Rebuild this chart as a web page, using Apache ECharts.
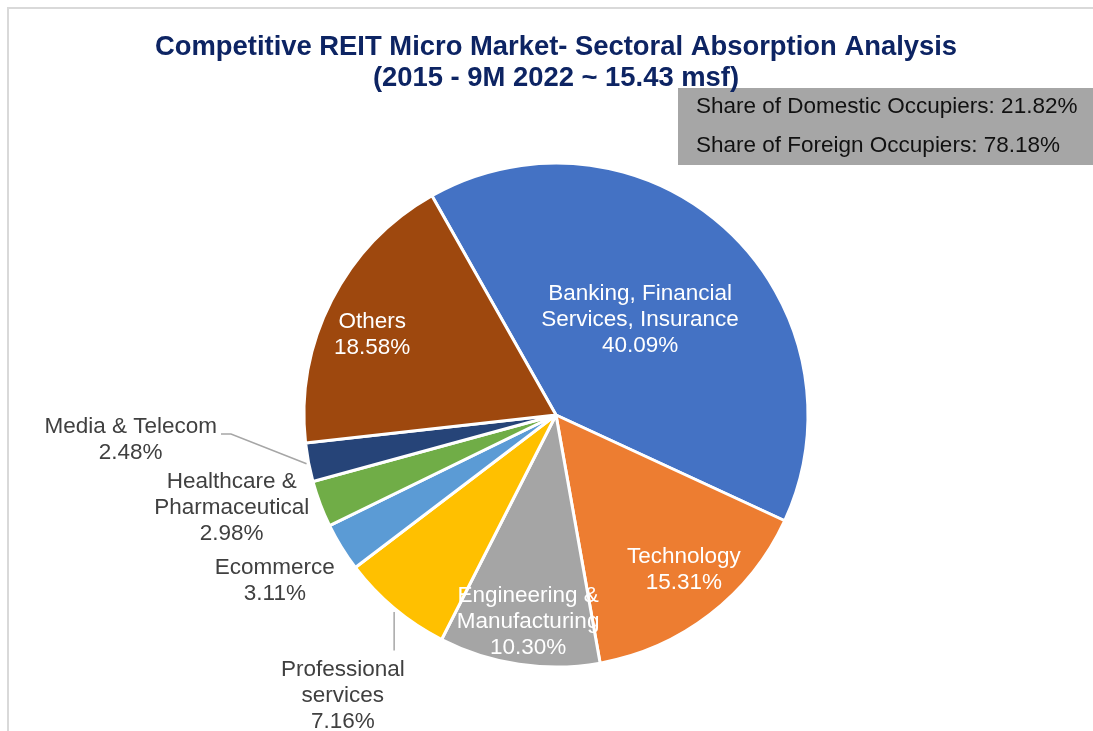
<!DOCTYPE html>
<html>
<head>
<meta charset="utf-8">
<script src="https://cdn.jsdelivr.net/npm/echarts@6/dist/echarts.min.js"></script>
<style>
  html, body { margin: 0; padding: 0; background: #ffffff; }
  #chart { width: 1093px; height: 731px; }
</style>
</head>
<body>
<div id="chart"></div>
<script>
// ---- Data ----
const categories = [
  'Banking, Financial\nServices, Insurance',
  'Technology',
  'Engineering &\nManufacturing',
  'Professional\nservices',
  'Ecommerce',
  'Healthcare &\nPharmaceutical',
  'Media & Telecom',
  'Others'
];
const shares = [40.09, 15.31, 10.30, 7.16, 3.11, 2.98, 2.48, 18.58];
const colors = ['#4472C4', '#ED7D31', '#A5A5A5', '#FFC000', '#5B9BD5', '#70AD47', '#264478', '#9E480E'];
const occupierLabels = ['Share of Domestic Occupiers', 'Share of Foreign Occupiers'];
const occupierShares = [21.82, 78.18];

// ---- Layout (not data) ----
const CX = 556, CY = 415, R = 252, START = 119.5, LABEL_DY = 2.5;
const FONT = 'Liberation Sans, Arial, sans-serif';
const insideLabel = [true, true, true, false, false, false, false, true];
// [radius factor, angle nudge in degrees] relative to each slice's mid angle
const labelPlace = [[0.51, 1.8], [0.79, 2.3], [0.82, 0.7], [1.39, 2.4], [1.29, -1.5], [1.336, -5.1], [1.69, -7.8], [0.80, 2.8]];
// guide style: 'down' = vertical line from slice edge down to label top; 'side' = line to label's right end
const guideType = [null, null, null, 'down', null, null, 'side', null];

const total = shares.reduce((a, b) => a + b, 0);
const midAngles = [];
(function () {
  let acc = START;
  shares.forEach(v => {
    const span = v / total * 360;
    midAngles.push(acc - span / 2);
    acc -= span;
  });
})();

const chart = echarts.init(document.getElementById('chart'), null, { renderer: 'canvas' });

const option = {
  animation: false,
  backgroundColor: '#ffffff',
  title: [
    {
      text: 'Competitive REIT Micro Market- Sectoral Absorption Analysis\n(2015 - 9M 2022 ~ 15.43 msf)',
      left: 551,
      textAlign: 'center',
      top: 27,
      textStyle: {
        fontFamily: FONT,
        fontSize: 27.4,
        fontWeight: 'bold',
        color: '#0D2463',
        lineHeight: 31
      }
    },
    {
      text: occupierLabels.map((l, i) => l + ': ' + occupierShares[i].toFixed(2) + '%').join('\n'),
      left: 678,
      top: 88,
      backgroundColor: '#A6A6A6',
      padding: [0, 40, 0, 18],
      textStyle: {
        fontFamily: FONT,
        fontSize: 22.5,
        fontWeight: 'normal',
        color: '#111111',
        lineHeight: 38.5
      }
    }
  ],
  graphic: [
    {
      type: 'rect',
      silent: true,
      shape: { x: 8, y: 8, width: 1200, height: 1000 },
      style: { fill: 'none', stroke: '#D9D9D9', lineWidth: 2 }
    }
  ],
  series: [
    {
      type: 'pie',
      center: [CX, CY],
      radius: [0, R],
      startAngle: START,
      clockwise: true,
      avoidLabelOverlap: false,
      itemStyle: { borderColor: '#ffffff', borderWidth: 3 },
      label: {
        show: true,
        position: 'outside',
        fontFamily: FONT,
        fontSize: 22.5,
        lineHeight: 26,
        align: 'center',
        formatter: p => p.name + '\n' + p.value.toFixed(2) + '%'
      },
      labelLine: {
        show: false,
        length: 10,
        length2: 10,
        lineStyle: { color: '#A6A6A6', width: 1.5 }
      },
      labelLayout: function (params) {
        const i = params.dataIndex;
        const a = (midAngles[i] + labelPlace[i][1]) * Math.PI / 180;
        const rr = R * labelPlace[i][0];
        const x = CX + rr * Math.cos(a);
        const y = CY - rr * Math.sin(a) + LABEL_DY;
        const out = { x: x, y: y, align: 'center', verticalAlign: 'middle' };
        const w = params.labelRect.width, h = params.labelRect.height;
        const am = midAngles[i] * Math.PI / 180;
        const ex = CX + (R + 2) * Math.cos(am), ey = CY - (R + 2) * Math.sin(am);
        if (guideType[i] === 'down') {
          const ty = y - h / 2 - 6;
          out.labelLinePoints = [[ex + 1, ey + 2], [ex + 1, ty], [ex + 1, ty]];
        } else if (guideType[i] === 'side') {
          const rx = x + w / 2 + 4;
          const ly = y - h / 2 + 20;
          out.labelLinePoints = [[ex, ey + 1], [rx + 10, ly], [rx, ly]];
        }
        return out;
      },
      data: categories.map((c, i) => ({
        name: c,
        value: shares[i],
        itemStyle: { color: colors[i] },
        label: { color: insideLabel[i] ? '#ffffff' : '#404040' },
        labelLine: { show: guideType[i] !== null }
      }))
    }
  ]
};

chart.setOption(option);
</script>
</body>
</html>
